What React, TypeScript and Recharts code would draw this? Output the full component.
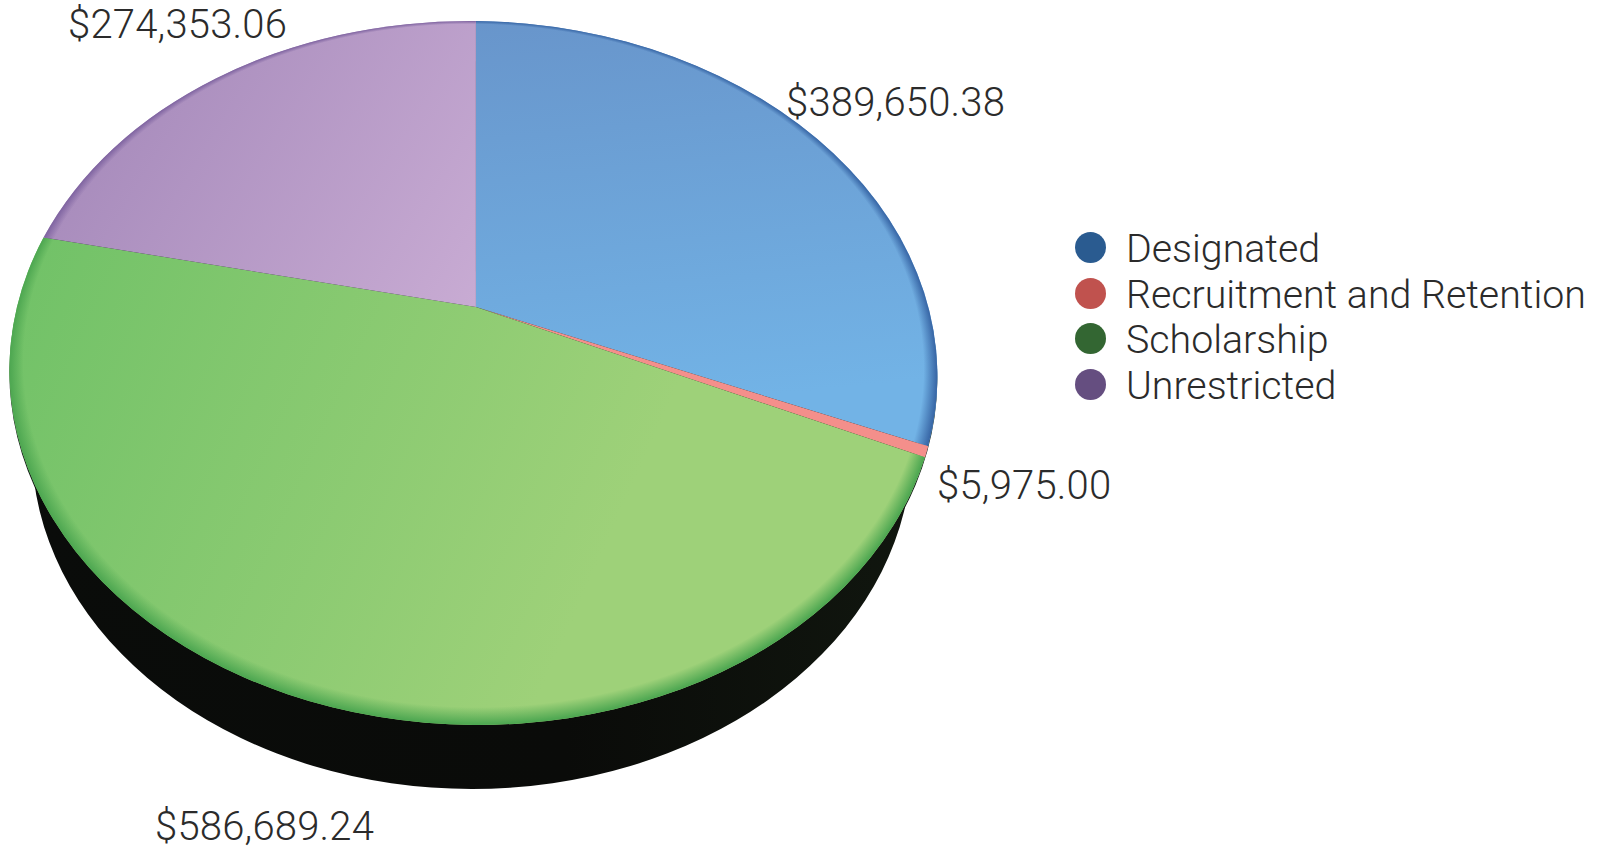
import { PieChart, Pie, Legend } from "recharts";

const categories = ["Designated", "Recruitment and Retention", "Scholarship", "Unrestricted"];
const amounts = [389650.38, 5975.0, 586689.24, 274353.06];
const legendColors = ["#2a5b90", "#c0524e", "#336632", "#654e80"];

const data = categories.map((name, i) => ({ name, value: amounts[i], fill: legendColors[i] }));
const total = amounts.reduce((a, b) => a + b, 0);

// slice shading, [from, to] plus the darker rim
const shades = [
  { stops: ["#6895cb", "#72b3e6"], line: [480, 20, 520, 420], rim: "#3a69a8" },
  { stops: ["#f48f8b", "#f48f8b"], line: [480, 300, 930, 450], rim: "#f48f8b" },
  { stops: ["#72c268", "#9ed179"], line: [20, 300, 600, 560], rim: "#4fa852" },
  { stops: ["#a98dbd", "#c8abd3"], line: [130, 100, 470, 310], rim: "#8166a2" },
];

const FONT = "Roboto, sans-serif";
const TEXT = "#2b2b2b";
const CX = 473.4;
const CY = 373;
const RX = 464;
const RY = 352;
// the apex sits above the ellipse centre because of the perspective
const VX = 0.0032;
const VY = 0.1875;
// the disc is very slightly tilted, clockwise on screen
const TILT = 0.9;
const TURN = -0.0065;

const labelPos = [
  [786, 116],
  [937, 499],
  [155, 840],
  [68, 38],
];

function toScreen(ux: number, uy: number, cx: number, cy: number, rx: number, ry: number) {
  const r = (TILT * Math.PI) / 180;
  const dx = rx * ux;
  const dy = -ry * uy;
  return { x: cx + dx * Math.cos(r) - dy * Math.sin(r), y: cy + dx * Math.sin(r) + dy * Math.cos(r) };
}

function project(deg: number, cx: number, cy: number, rx: number, ry: number) {
  const t = (deg * Math.PI) / 180;
  const a = Math.cos(t);
  const b = Math.sin(t);
  // perspective map of the disc onto itself, centre goes to the apex
  const den = 1 + VY * b;
  const px = (a * Math.sqrt(1 - VY * VY)) / den;
  const py = (b + VY) / den;
  // tiny turn so the top boundary stays vertical
  const wx = px + TURN * py;
  const wy = py - TURN * px;
  return { ...toScreen(wx, wy, cx, cy, rx, ry), ang: Math.atan2(wy, wx) };
}

function Slice(props: any) {
  const { cx, cy, outerRadius, startAngle, endAngle, index } = props;
  const rx = outerRadius;
  const ry = (outerRadius * RY) / RX;
  const s = project(startAngle, cx, cy, rx, ry);
  const e = project(endAngle, cx, cy, rx, ry);
  const apex = toScreen(VX, VY, cx, cy, rx, ry);
  let span = s.ang - e.ang;
  if (span < 0) span += Math.PI * 2;
  const d = `M${apex.x},${apex.y} L${s.x},${s.y} A${rx},${ry} ${TILT} ${span > Math.PI ? 1 : 0} 1 ${e.x},${e.y} Z`;
  const shade = shades[index];
  const [x1, y1, x2, y2] = shade.line;
  return (
    <g>
      <defs>
        <linearGradient id={`base${index}`} gradientUnits="userSpaceOnUse" x1={x1} y1={y1} x2={x2} y2={y2}>
          <stop offset="0" stopColor={shade.stops[0]} />
          <stop offset="1" stopColor={shade.stops[1]} />
        </linearGradient>
        <radialGradient
          id={`rim${index}`}
          gradientUnits="userSpaceOnUse"
          gradientTransform={`translate(${cx} ${cy}) rotate(${TILT}) scale(${rx} ${ry})`}
          cx="0"
          cy="0"
          r="1"
          fx="0"
          fy="-0.7"
        >
          <stop offset="0.97" stopColor={shade.rim} stopOpacity="0" />
          <stop offset="0.998" stopColor={shade.rim} stopOpacity="1" />
        </radialGradient>
      </defs>
      <path d={d} fill={`url(#base${index})`} />
      <path d={d} fill={`url(#rim${index})`} />
    </g>
  );
}

// black side wall under the disc
function Wall(props: any) {
  const { cx, cy, outerRadius } = props;
  const k = outerRadius / RX;
  const lowCy = cy + 74 * k;
  const lowRx = 440 * k;
  const lowRy = 342 * k;
  const edgeY = lowCy + 33 * k;
  const dx = lowRx * Math.sqrt(1 - ((edgeY - lowCy) / lowRy) ** 2);
  const topY = cy + 17 * k;
  const d = `M${cx - outerRadius + 1},${topY} L${cx - 1.5 - dx},${edgeY} A${lowRx},${lowRy} 0 0 0 ${cx - 1.5 + dx},${edgeY} L${cx + outerRadius - 1},${topY} Z`;
  return (
    <g>
      <defs>
        <linearGradient id="wallFill" x1="0" x2="1" y1="0" y2="0">
          <stop offset="0" stopColor="#0a0c0a" />
          <stop offset="0.6" stopColor="#0a0b09" />
          <stop offset="1" stopColor="#11170f" />
        </linearGradient>
      </defs>
      {/* thin dark edge that shows just outside the disc */}
      <ellipse
        cx={cx}
        cy={cy + 2.5 * k}
        rx={outerRadius}
        ry={(outerRadius * RY) / RX}
        fill="#16241a"
        transform={`rotate(${TILT} ${cx} ${cy})`}
      />
      <path d={d} fill="url(#wallFill)" />
    </g>
  );
}

function AmountLabel(props: any) {
  const [x, y] = labelPos[props.index];
  return (
    <text x={x} y={y} fill={TEXT} fontFamily={FONT} fontWeight={300} fontSize={40} letterSpacing={0.2}>
      {"$" + props.value.toLocaleString("en-US", { minimumFractionDigits: 2, maximumFractionDigits: 2 })}
    </text>
  );
}

export default function App() {
  return (
    <div style={{ position: "absolute", left: 0, top: 0, width: 1605, height: 851, background: "#fff" }}>
      <PieChart width={1605} height={851} margin={{ top: 0, right: 0, bottom: 0, left: 0 }}>
        <Pie
          data={[{ name: "wall", value: total }]}
          dataKey="value"
          cx={CX}
          cy={CY}
          outerRadius={RX}
          stroke="none"
          legendType="none"
          shape={Wall}
          isAnimationActive={false}
        />
        <Pie
          data={data}
          dataKey="value"
          nameKey="name"
          cx={CX}
          cy={CY}
          outerRadius={RX}
          startAngle={90}
          endAngle={-270}
          stroke="none"
          shape={Slice}
          label={AmountLabel}
          labelLine={false}
          isAnimationActive={false}
        />
        <Legend
          layout="vertical"
          iconType="circle"
          iconSize={31}
          wrapperStyle={{ left: 1075, top: 223, width: 530, bottom: "auto", lineHeight: "45.6px", fontFamily: FONT, fontWeight: 300, fontSize: 39.3 }}
          formatter={(value: string) => <span style={{ color: TEXT, paddingLeft: 16, position: "relative", top: 4 }}>{value}</span>}
        />
      </PieChart>
    </div>
  );
}
